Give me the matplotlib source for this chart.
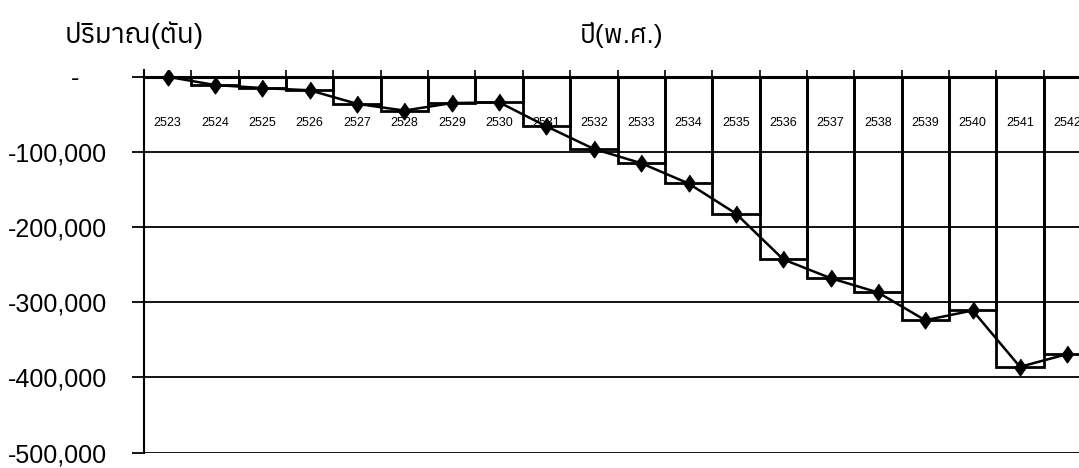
import numpy as np
import matplotlib
matplotlib.use("Agg")
import matplotlib.pyplot as plt

# data (tonnes, per Buddhist-era year)
years = ['2523', '2524', '2525', '2526', '2527', '2528', '2529', '2530', '2531', '2532',
         '2533', '2534', '2535', '2536', '2537', '2538', '2539', '2540', '2541', '2542']
amounts = [0, -11000, -15000, -18000, -36000, -45000, -35000, -34000, -66000, -96000,
           -115000, -142000, -182000, -243000, -268000, -287000, -324000, -311000, -386000, -369000]
y_ticks = [0, -100000, -200000, -300000, -400000, -500000]

# Liberation for the numbers, a Thai family for the titles
plt.rcParams['font.family'] = ['Liberation Sans', 'Anuphan', 'DejaVu Sans']

W, H = 1079, 468
fig = plt.figure(figsize=(W / 100, H / 100), dpi=100)
# the plot runs a little past the right edge of the scan, like the original
ax = fig.add_axes([144 / W, 15.5 / H, (1091 - 144) / W, (452.5 - 70) / H])

x = np.arange(len(years))
ax.bar(x, amounts, width=1.0, facecolor='none', edgecolor='black', linewidth=2.0, zorder=2)
diamond = [(0, 1), (0.7, 0), (0, -1), (-0.7, 0)]
ax.plot(x, amounts, color='black', lw=1.8, marker=diamond, ms=12, zorder=4)

ax.set_xlim(-0.5, len(years) - 0.5)
ax.set_ylim(-500000, 9000)

for v in y_ticks[1:]:
    ax.axhline(v, color='black', lw=1.3, zorder=1)
ax.axhline(0, color='black', lw=2.2, zorder=3)

for s in ['top', 'right', 'bottom']:
    ax.spines[s].set_visible(False)
ax.spines['bottom'].set_position(('data', 0))
ax.spines['left'].set_linewidth(1.5)

# small ticks on the category borders, year labels under the zero line
ax.set_xticks(np.arange(0.5, len(years) - 0.5, 1))
ax.set_xticks(x, labels=years, minor=True)
ax.tick_params(axis='x', which='major', direction='in', length=5, width=1.2, labelbottom=False)
ax.tick_params(axis='x', which='minor', length=0, pad=29, labelsize=9)

ylabels = ['-    ' if v == 0 else '{:,}'.format(v) for v in y_ticks]
ax.set_yticks(y_ticks, labels=ylabels)
ax.tick_params(axis='y', direction='out', length=8.6, width=1.3, pad=18, labelsize=18)

fig.text(65 / W, 1 - 35 / H, 'ปริมาณ(ตัน)', fontsize=20, va='center')
fig.text(580 / W, 1 - 35 / H, 'ปี(พ.ศ.)', fontsize=19, va='center')

fig.savefig('out.png', dpi=100)
